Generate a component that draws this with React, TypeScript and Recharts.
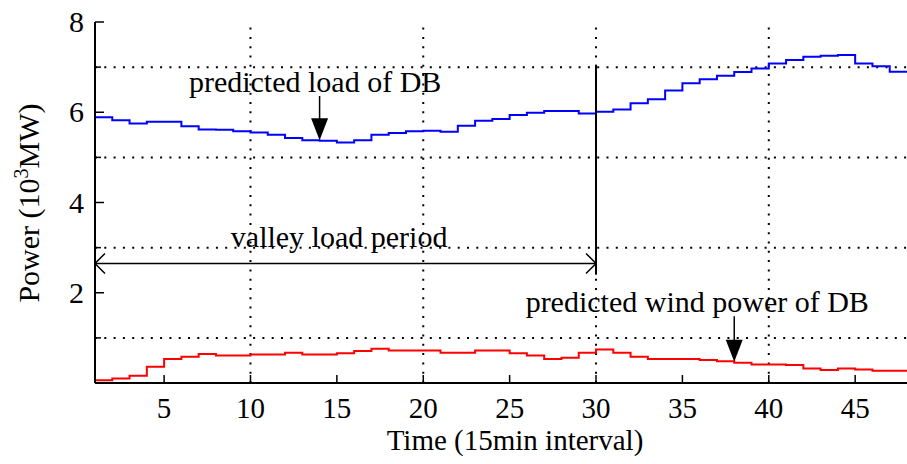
import React from "react"
import { LineChart, Line, XAxis, YAxis, ReferenceLine, ReferenceDot, Customized } from "recharts"

const slots = [
  1, 2, 3, 4, 5, 6, 7, 8, 9, 10, 11, 12, 13, 14, 15, 16, 17, 18, 19, 20, 21, 22, 23, 24,
  25, 26, 27, 28, 29, 30, 31, 32, 33, 34, 35, 36, 37, 38, 39, 40, 41, 42, 43, 44, 45, 46, 47, 48,
]

// predicted load of DB (10^3 MW)
const loadValues = [
  5.89, 5.82, 5.75, 5.79, 5.79, 5.69, 5.62, 5.61, 5.58, 5.55, 5.5, 5.43, 5.38, 5.37, 5.33, 5.38,
  5.5, 5.54, 5.58, 5.59, 5.57, 5.7, 5.81, 5.85, 5.94, 5.99, 6.03, 6.03, 5.97, 6.01, 6.06, 6.2,
  6.29, 6.48, 6.64, 6.73, 6.81, 6.89, 6.97, 7.08, 7.16, 7.23, 7.25, 7.27, 7.08, 7.02, 6.9, 6.9,
]

// predicted wind power of DB (10^3 MW)
const windValues = [
  0.06, 0.1, 0.16, 0.36, 0.53, 0.58, 0.64, 0.61, 0.61, 0.63, 0.63, 0.67, 0.63, 0.63, 0.66, 0.71,
  0.76, 0.72, 0.72, 0.72, 0.67, 0.67, 0.72, 0.72, 0.66, 0.61, 0.53, 0.56, 0.67, 0.74, 0.67, 0.58,
  0.53, 0.53, 0.53, 0.51, 0.48, 0.45, 0.41, 0.41, 0.4, 0.32, 0.29, 0.32, 0.3, 0.27, 0.27, 0.27,
]

const xTicks = [5, 10, 15, 20, 25, 30, 35, 40, 45]
const yTicks = [1, 2, 3, 4, 5, 6, 7, 8]
const xGrid = [10, 20, 30, 40]
const yGrid = [1, 3, 5, 7]

const data = slots.map((t, i) => ({ t, load: loadValues[i], wind: windValues[i] }))

const FONT = '"Liberation Serif", "Times New Roman", serif'

function XTick(props: any) {
  const { x, y, payload } = props
  return (
    <g>
      <line x1={x} y1={y} x2={x} y2={y - 8} stroke="#000" strokeWidth={1.5} />
      <text x={x} y={y + 35} textAnchor="middle" fontSize={29} fontFamily={FONT} fill="#000">
        {payload.value}
      </text>
    </g>
  )
}

function YTick(props: any) {
  const { x, y, payload } = props
  const major = payload.value % 2 === 0
  return (
    <g>
      <line x1={x} y1={y} x2={x + (major ? 9 : 6)} y2={y} stroke="#000" strokeWidth={1.5} />
      {major && (
        <text x={x - 11} y={y + 10} textAnchor="end" fontSize={30} fontFamily={FONT} fill="#000">
          {payload.value}
        </text>
      )}
    </g>
  )
}

function DownArrow(props: any) {
  const { x1, y1, x2, y2 } = props
  return (
    <g>
      <line x1={x1} y1={y1} x2={x2} y2={y2 - 20} stroke="#000" strokeWidth={1.5} />
      <polygon points={`${x2 - 8.5},${y2 - 22} ${x2 + 8.5},${y2 - 22} ${x2},${y2}`} fill="#000" />
    </g>
  )
}

function SpanArrow(props: any) {
  const { x1, y1, x2, y2 } = props
  return (
    <g fill="none" stroke="#000" strokeWidth={1.5}>
      <line x1={x1} y1={y1} x2={x2} y2={y2} />
      <polyline points={`${x1 + 10},${y1 - 10} ${x1},${y1} ${x1 + 10},${y1 + 10}`} />
      <polyline points={`${x2 - 10},${y2 - 10} ${x2},${y2} ${x2 - 10},${y2 + 10}`} />
    </g>
  )
}

function Note(text: string) {
  return (props: any) => (
    <text x={props.cx} y={props.cy} textAnchor="middle" fontSize={30} fontFamily={FONT} fill="#000">
      {text}
    </text>
  )
}

function AxisTitles() {
  return (
    <g fontFamily={FONT} fill="#000">
      <text x={515} y={450} textAnchor="middle" fontSize={29}>
        Time (15min interval)
      </text>
      <text transform="translate(39,203) rotate(-90)" textAnchor="middle" fontSize={30}>
        Power (10
        <tspan fontSize={20} dy={-11}>3</tspan>
        <tspan dy={11}>MW)</tspan>
      </text>
    </g>
  )
}

export default function App() {
  return (
    <div style={{ position: "absolute", left: 0, top: 0, background: "#fff" }}>
      <LineChart width={907} height={464} data={data} margin={{ top: 22, right: 0, bottom: 0, left: 0 }}>
        <XAxis
          dataKey="t"
          type="number"
          domain={[1, 48]}
          ticks={xTicks}
          height={81}
          tickSize={0}
          tickMargin={0}
          tickLine={false}
          axisLine={{ stroke: "#000", strokeWidth: 2 }}
          tick={(p: any) => <XTick {...p} />}
          interval={0}
          allowDataOverflow
        />
        <YAxis
          type="number"
          domain={[0, 8]}
          ticks={yTicks}
          width={95}
          tickSize={0}
          tickMargin={0}
          tickLine={false}
          axisLine={{ stroke: "#000", strokeWidth: 2 }}
          tick={(p: any) => <YTick {...p} />}
          interval={0}
          allowDataOverflow
        />
        {yGrid.map((v) => (
          <ReferenceLine key={`h${v}`} y={v} stroke="#000" strokeWidth={2} strokeDasharray="2 7.3" />
        ))}
        {xGrid.map((v) => (
          <ReferenceLine key={`v${v}`} x={v} stroke="#000" strokeWidth={2} strokeDasharray="2 7.3" />
        ))}
        <Line
          type="stepAfter"
          dataKey="load"
          stroke="#0000ff"
          strokeWidth={2}
          dot={false}
          isAnimationActive={false}
        />
        <Line
          type="stepAfter"
          dataKey="wind"
          stroke="#ff0000"
          strokeWidth={2}
          dot={false}
          isAnimationActive={false}
        />
        <ReferenceLine
          segment={[
            { x: 30, y: 7.05 },
            { x: 30, y: 2.4 },
          ]}
          stroke="#000"
          strokeWidth={2}
        />
        <ReferenceLine
          segment={[
            { x: 1, y: 2.65 },
            { x: 30, y: 2.65 },
          ]}
          shape={(p: any) => <SpanArrow {...p} />}
        />
        <ReferenceLine
          segment={[
            { x: 14, y: 6.36 },
            { x: 14, y: 5.38 },
          ]}
          shape={(p: any) => <DownArrow {...p} />}
        />
        <ReferenceLine
          segment={[
            { x: 38, y: 1.48 },
            { x: 38, y: 0.47 },
          ]}
          shape={(p: any) => <DownArrow {...p} />}
        />
        <ReferenceDot x={13.74} y={6.45} r={0} shape={Note("predicted load of DB")} />
        <ReferenceDot x={15.13} y={3.01} r={0} shape={Note("valley load period")} />
        <ReferenceDot x={35.86} y={1.57} r={0} shape={Note("predicted wind power of DB")} />
        <Customized component={<AxisTitles />} />
      </LineChart>
    </div>
  )
}
